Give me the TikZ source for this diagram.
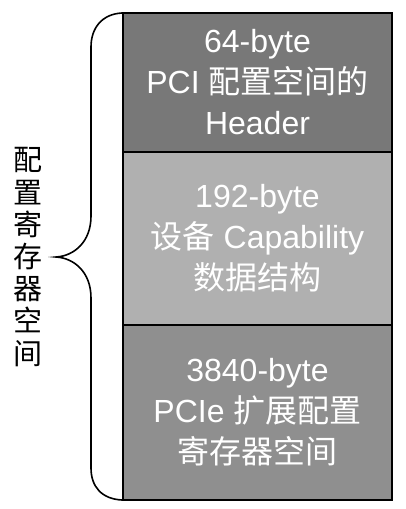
\documentclass[tikz,border=0pt]{standalone}
\usepackage{fontspec}
\setmainfont{Liberation Sans}
\newfontfamily\cjk{Noto Sans CJK SC}
\definecolor{boxdark}{RGB}{120,120,120}
\definecolor{boxlight}{RGB}{176,176,176}
\definecolor{boxmid}{RGB}{143,143,143}
\begin{document}
\begin{tikzpicture}[x=1pt,y=-1pt,
  regbox/.style={draw=black, line width=1.6pt, minimum width=269pt, inner sep=0pt,
    text=white, align=center, font=\fontsize{32}{41}\selectfont},
  bracepath/.style={draw=black, line width=1.6pt},
  sidetext/.style={align=center, inner sep=0pt, font=\cjk\fontsize{29}{32.2}\selectfont}]
\useasboundingbox (0,0) rectangle (406,509);
\node[regbox, fill=boxdark, minimum height=139pt] (b1) at (257.5,82.5)
  {64-byte\\PCI {\cjk 配置空间的}\\Header};
\node[regbox, fill=boxlight, minimum height=173pt] (b2) at (257.5,238.5)
  {192-byte\\{\cjk 设备} Capability\\{\cjk 数据结构}};
\node[regbox, fill=boxmid, minimum height=175pt] (b3) at (257.5,412.5)
  {3840-byte\\PCIe {\cjk 扩展配置}\\{\cjk 寄存器空间}};
\coordinate (bt) at (122,13);
\coordinate (bb) at (122,500);
\coordinate (tip) at (56,257);
\path[bracepath] (bt) .. controls (102,14) and (91,28) .. (91,47)
  -- (91,216) .. controls (91,242) and (74,256) .. (tip)
  .. controls (74,258) and (91,272) .. (91,298)
  -- (91,468) .. controls (91,487) and (102,499) .. (bb);
\node[sidetext] (side) at (27.5,257) {配\\置\\寄\\存\\器\\空\\间};
\end{tikzpicture}
\end{document}
